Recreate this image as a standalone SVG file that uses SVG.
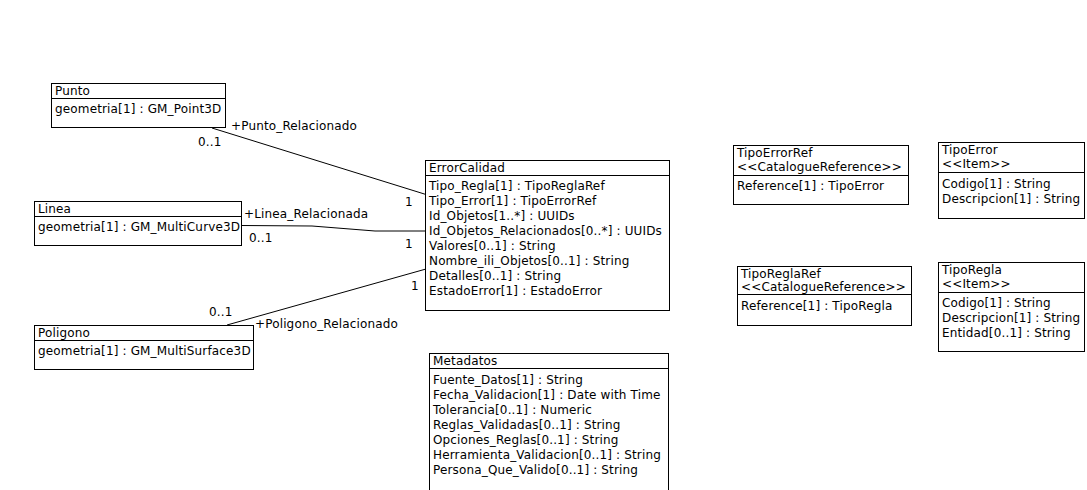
<svg xmlns="http://www.w3.org/2000/svg" width="1087" height="490" viewBox="0 0 1087 490">
<style>
.box{fill:#fff;stroke:#000;stroke-width:1}
.div{stroke:#000;stroke-width:1}
.t{font-family:"DejaVu Sans","Liberation Sans",sans-serif;font-size:12px;letter-spacing:0.15px;fill:#000}
.c{fill:none;stroke:#000;stroke-width:1}
</style>
<rect width="1087" height="490" fill="#fff"/>
<g id="connectors">
<line class="c" x1="212" y1="128" x2="426" y2="194.5"/>
<polyline class="c" points="241.5,225.5 312,226 375,231 426,231"/>
<line class="c" x1="227" y1="325" x2="426" y2="269"/>
<text class="t" x="231" y="130">+Punto_Relacionado</text>
<text class="t" x="198" y="146">0..1</text>
<text class="t" x="405" y="206">1</text>
<text class="t" x="244" y="218">+Linea_Relacionada</text>
<text class="t" x="249" y="242">0..1</text>
<text class="t" x="405" y="248">1</text>
<text class="t" x="255" y="328">+Poligono_Relacionado</text>
<text class="t" x="209" y="316">0..1</text>
<text class="t" x="411" y="290">1</text>
</g>
<g id="Punto">
<rect class="box" x="51.5" y="83.5" width="174" height="44"/>
<line class="div" x1="51.5" y1="98.5" x2="225.5" y2="98.5"/>
<text class="t" x="55" y="95">Punto</text>
<text class="t" x="55" y="113">geometria[1] : GM_Point3D</text>
</g>
<g id="Linea">
<rect class="box" x="34.5" y="201.5" width="207" height="44"/>
<line class="div" x1="34.5" y1="216.5" x2="241.5" y2="216.5"/>
<text class="t" x="38" y="213">Linea</text>
<text class="t" x="38" y="231">geometria[1] : GM_MultiCurve3D</text>
</g>
<g id="Poligono">
<rect class="box" x="34.5" y="325.5" width="219" height="44"/>
<line class="div" x1="34.5" y1="340.5" x2="253.5" y2="340.5"/>
<text class="t" x="38" y="337">Poligono</text>
<text class="t" x="38" y="355">geometria[1] : GM_MultiSurface3D</text>
</g>
<g id="ErrorCalidad">
<rect class="box" x="425.5" y="160.5" width="244" height="150"/>
<line class="div" x1="425.5" y1="175.5" x2="669.5" y2="175.5"/>
<text class="t" x="429" y="172">ErrorCalidad</text>
<text class="t" x="429" y="190">Tipo_Regla[1] : TipoReglaRef</text>
<text class="t" x="429" y="205">Tipo_Error[1] : TipoErrorRef</text>
<text class="t" x="429" y="220">Id_Objetos[1..*] : UUIDs</text>
<text class="t" x="429" y="235">Id_Objetos_Relacionados[0..*] : UUIDs</text>
<text class="t" x="429" y="250">Valores[0..1] : String</text>
<text class="t" x="429" y="265">Nombre_ili_Objetos[0..1] : String</text>
<text class="t" x="429" y="280">Detalles[0..1] : String</text>
<text class="t" x="429" y="295">EstadoError[1] : EstadoError</text>
</g>
<g id="Metadatos">
<rect class="box" x="429.5" y="353.5" width="239" height="138"/>
<line class="div" x1="429.5" y1="368.5" x2="668.5" y2="368.5"/>
<text class="t" x="433" y="365">Metadatos</text>
<text class="t" x="433" y="384">Fuente_Datos[1] : String</text>
<text class="t" x="433" y="399">Fecha_Validacion[1] : Date with Time</text>
<text class="t" x="433" y="414">Tolerancia[0..1] : Numeric</text>
<text class="t" x="433" y="429">Reglas_Validadas[0..1] : String</text>
<text class="t" x="433" y="444">Opciones_Reglas[0..1] : String</text>
<text class="t" x="433" y="459">Herramienta_Validacion[0..1] : String</text>
<text class="t" x="433" y="474">Persona_Que_Valido[0..1] : String</text>
</g>
<g id="TipoErrorRef">
<rect class="box" x="733.5" y="145.5" width="175" height="59"/>
<line class="div" x1="733.5" y1="175.5" x2="908.5" y2="175.5"/>
<text class="t" x="737" y="157">TipoErrorRef</text>
<text class="t" x="737" y="171">&lt;&lt;CatalogueReference&gt;&gt;</text>
<text class="t" x="737" y="190">Reference[1] : TipoError</text>
</g>
<g id="TipoError">
<rect class="box" x="938.5" y="142.5" width="146" height="76"/>
<line class="div" x1="938.5" y1="172.5" x2="1084.5" y2="172.5"/>
<text class="t" x="942" y="154">TipoError</text>
<text class="t" x="942" y="168">&lt;&lt;Item&gt;&gt;</text>
<text class="t" x="942" y="188">Codigo[1] : String</text>
<text class="t" x="942" y="203">Descripcion[1] : String</text>
</g>
<g id="TipoReglaRef">
<rect class="box" x="737.5" y="266.5" width="174" height="59"/>
<line class="div" x1="737.5" y1="294.5" x2="911.5" y2="294.5"/>
<text class="t" x="741" y="278">TipoReglaRef</text>
<text class="t" x="741" y="291">&lt;&lt;CatalogueReference&gt;&gt;</text>
<text class="t" x="741" y="310">Reference[1] : TipoRegla</text>
</g>
<g id="TipoRegla">
<rect class="box" x="938.5" y="262.5" width="146" height="89"/>
<line class="div" x1="938.5" y1="292.5" x2="1084.5" y2="292.5"/>
<text class="t" x="942" y="274">TipoRegla</text>
<text class="t" x="942" y="288">&lt;&lt;Item&gt;&gt;</text>
<text class="t" x="942" y="307">Codigo[1] : String</text>
<text class="t" x="942" y="322">Descripcion[1] : String</text>
<text class="t" x="942" y="337">Entidad[0..1] : String</text>
</g>
</svg>
